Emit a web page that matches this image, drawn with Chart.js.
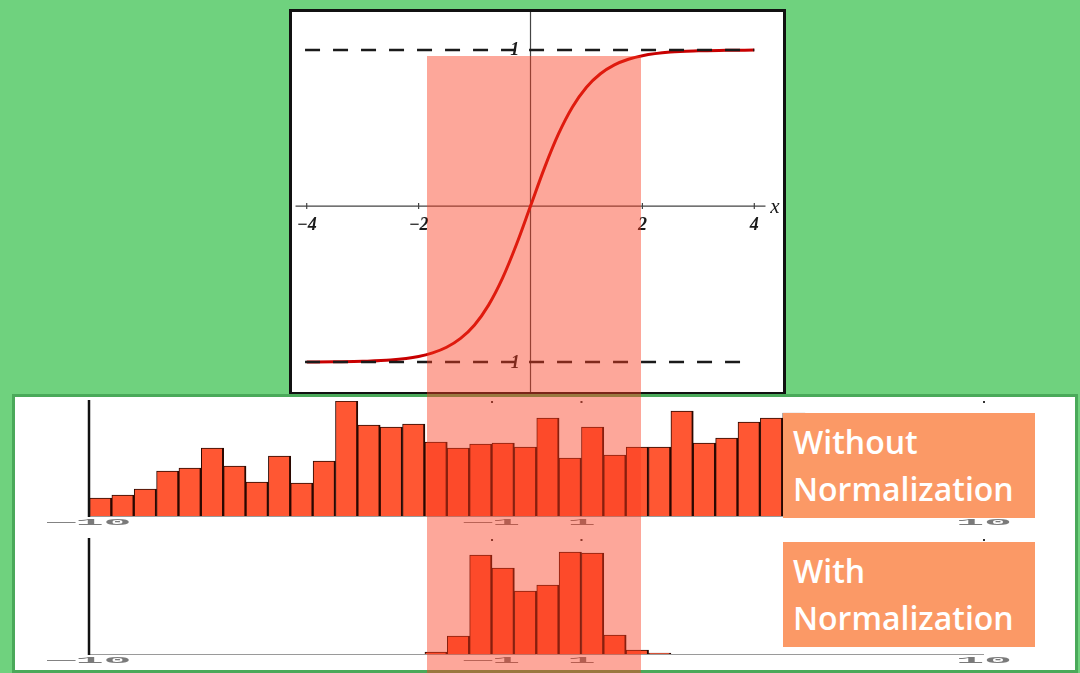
<!DOCTYPE html>
<html>
<head>
<meta charset="utf-8">
<script src="https://cdn.jsdelivr.net/npm/chart.js@4.4.1/dist/chart.umd.min.js"></script>
<style>
  html, body { margin: 0; padding: 0; }
  body { width: 1080px; height: 673px; overflow: hidden; background: #6fd27e; position: relative; font-family: "Open Sans", sans-serif; }
  .abs { position: absolute; }
  #topPanel { left: 289px; top: 9px; width: 497px; height: 386px; border: 3px solid #111; background: #fff; box-sizing: border-box; }
  #bottomPanel { left: 12px; top: 394px; width: 1066px; height: 279px; border: 3px solid #4aa95a; background: #fff; box-sizing: border-box; }
  #tanhChart { left: 292px; top: 12px; }
  #hist1 { left: 15px; top: 396px; }
  #hist2 { left: 15px; top: 534px; }
  #band { left: 427px; top: 56px; width: 214px; height: 617px; background: rgba(250, 60, 30, 0.45); }
  .label { left: 783px; width: 252px; height: 105px; background: #fb9966; color: #fff; font-weight: 600; font-size: 32px; line-height: 47px; padding: 5px 0 0 10px; box-sizing: border-box; white-space: nowrap; }
</style>
</head>
<body>
<div id="topPanel" class="abs"></div>
<div id="bottomPanel" class="abs"></div>
<canvas id="tanhChart" class="abs" width="491" height="380"></canvas>
<canvas id="hist1" class="abs" width="1060" height="136"></canvas>
<canvas id="hist2" class="abs" width="1060" height="136"></canvas>
<div id="band" class="abs"></div>
<div class="abs label" style="top:413px">Without<br>Normalization</div>
<div class="abs label" style="top:542px">With<br>Normalization</div>

<script>
// tanh curve
const tanhX = [-4, -3.5, -3, -2.5, -2, -1.75, -1.5, -1.25, -1, -0.75, -0.5, -0.25, 0,
               0.25, 0.5, 0.75, 1, 1.25, 1.5, 1.75, 2, 2.5, 3, 3.5, 4];
const tanhY = [-1.0, -0.998, -0.995, -0.987, -0.964, -0.941, -0.905, -0.848, -0.762, -0.635, -0.462, -0.245, 0,
               0.245, 0.462, 0.635, 0.762, 0.848, 0.905, 0.941, 0.964, 0.987, 0.995, 0.998, 1.0];
const upperDashX = [-4.03, 4.0];
const lowerDashX = [-4.03, 3.9];
const xTicks = [-4, -2, 2, 4];

// histograms: 40 bins of width 0.5 from -10 to 10
const binCenters = [-9.75, -9.25, -8.75, -8.25, -7.75, -7.25, -6.75, -6.25, -5.75, -5.25,
                    -4.75, -4.25, -3.75, -3.25, -2.75, -2.25, -1.75, -1.25, -0.75, -0.25,
                    0.25, 0.75, 1.25, 1.75, 2.25, 2.75, 3.25, 3.75, 4.25, 4.75,
                    5.25, 5.75, 6.25, 6.75, 7.25, 7.75, 8.25, 8.75, 9.25, 9.75];
const withoutNorm = [18, 21, 27, 45, 48, 68, 50, 34, 60, 33,
                     55, 115, 91, 89, 92, 74, 68, 72, 73, 69,
                     98, 58, 89, 61, 69, 69, 105, 73, 78, 94,
                     98, 103, 96, 90, 86, 92, 82, 88, 77, 72];
const withNorm = [0, 0, 0, 0, 0, 0, 0, 0, 0, 0,
                  0, 0, 0, 0, 0, 2, 18, 99, 86, 63,
                  69, 102, 101, 19, 4, 1, 0, 0, 0, 0,
                  0, 0, 0, 0, 0, 0, 0, 0, 0, 0];
const histTicks = [-10, -1, 1, 10];
const histTickLabels = ['\u201410', '\u20141', '1', '10'];

const pts = (xs, ys) => xs.map((v, i) => ({x: v, y: ys[i]}));

const tanhAxes = {
  id: 'tanhAxes',
  beforeDatasetsDraw(chart) {
    const {ctx, chartArea: a, scales: {x, y}} = chart;
    const x0 = x.getPixelForValue(0), y0 = y.getPixelForValue(0);
    ctx.save();
    ctx.strokeStyle = '#444';
    ctx.lineWidth = 1.2;
    ctx.beginPath();
    ctx.moveTo(x0, a.top);
    ctx.lineTo(x0, a.bottom);
    ctx.moveTo(x.getPixelForValue(-4.2), y0);
    ctx.lineTo(x.getPixelForValue(4.2), y0);
    xTicks.forEach(v => {
      const px = x.getPixelForValue(v);
      ctx.moveTo(px, y0 - 3);
      ctx.lineTo(px, y0 + 3);
    });
    ctx.stroke();

    ctx.fillStyle = '#1a1a1a';
    ctx.textAlign = 'center';
    ctx.textBaseline = 'middle';
    ctx.font = 'italic bold 18px "Liberation Serif"';
    xTicks.forEach(v => {
      ctx.fillText(v < 0 ? '\u2212' + Math.abs(v) : String(v), x.getPixelForValue(v), y0 + 19);
    });
    ctx.fillText('1', x.getPixelForValue(-0.28), y.getPixelForValue(1));
    ctx.fillText('\u22121', x.getPixelForValue(-0.37), y.getPixelForValue(-1) + 1);
    ctx.font = 'italic 21px "Liberation Serif"';
    ctx.fillText('x', x.getPixelForValue(4.37), y0 + 1);
    ctx.restore();
  }
};

new Chart(document.getElementById('tanhChart'), {
  type: 'line',
  data: {
    datasets: [
      { data: pts(upperDashX, [1, 1]), borderColor: '#1a1a1a', borderWidth: 2.5, borderDash: [15, 13], pointRadius: 0 },
      { data: pts(lowerDashX, [-1, -1]), borderColor: '#1a1a1a', borderWidth: 2.5, borderDash: [15, 13], pointRadius: 0 },
      { data: pts(tanhX, tanhY), borderColor: '#c80000', borderWidth: 3, pointRadius: 0, cubicInterpolationMode: 'monotone' }
    ]
  },
  options: {
    responsive: false,
    devicePixelRatio: 1,
    animation: false,
    layout: { padding: 0 },
    plugins: { legend: { display: false }, tooltip: { enabled: false } },
    scales: {
      x: { type: 'linear', display: false, min: -4.263, max: 4.513 },
      y: { display: false, min: -1.192, max: 1.244 }
    }
  },
  plugins: [tanhAxes]
});

const histDecor = {
  id: 'histDecor',
  beforeDatasetsDraw(chart) {
    const {ctx, chartArea: a, scales: {x}} = chart;
    ctx.save();
    ctx.strokeStyle = '#9a9a9a';
    ctx.lineWidth = 1;
    ctx.beginPath();
    ctx.moveTo(x.getPixelForValue(-10), a.bottom + 0.5);
    ctx.lineTo(x.getPixelForValue(10), a.bottom + 0.5);
    ctx.stroke();
    ctx.restore();
  },
  afterDatasetsDraw(chart) {
    const {ctx, chartArea: a, scales: {x}} = chart;
    ctx.save();
    const xa = x.getPixelForValue(-10) - 0.5;
    ctx.strokeStyle = '#111';
    ctx.lineWidth = 2.5;
    ctx.beginPath();
    ctx.moveTo(xa, a.top - 1);
    ctx.lineTo(xa, a.bottom + 1);
    ctx.stroke();

    ctx.fillStyle = '#333';
    histTicks.slice(1).forEach(v => ctx.fillRect(x.getPixelForValue(v) - 1, a.top, 2, 2));

    ctx.fillStyle = '#7a7a7a';
    ctx.font = 'bold 13px "Liberation Mono"';
    ctx.textAlign = 'center';
    ctx.textBaseline = 'middle';
    histTicks.forEach((v, i) => {
      ctx.save();
      ctx.translate(x.getPixelForValue(v), a.bottom + 7);
      ctx.scale(3.6, 0.65);
      ctx.fillText(histTickLabels[i], 0, 0);
      ctx.restore();
    });
    ctx.restore();
  }
};

function histChart(id, values) {
  return new Chart(document.getElementById(id), {
    type: 'bar',
    data: {
      datasets: [{
        data: pts(binCenters, values),
        backgroundColor: '#ff5733',
        borderColor: '#2a0800',
        borderWidth: { top: 1, left: 1, right: 2, bottom: 0 },
        borderSkipped: false,
        barPercentage: 1,
        categoryPercentage: 1
      }]
    },
    options: {
      responsive: false,
      devicePixelRatio: 1,
      animation: false,
      layout: { padding: { left: 74.5, right: 91, top: 5, bottom: 16 } },
      plugins: { legend: { display: false }, tooltip: { enabled: false } },
      scales: {
        x: { type: 'linear', display: false, min: -10, max: 10, offset: false },
        y: { display: false, min: 0, max: 115 }
      }
    },
    plugins: [histDecor]
  });
}

histChart('hist1', withoutNorm);
histChart('hist2', withNorm);
</script>
</body>
</html>
